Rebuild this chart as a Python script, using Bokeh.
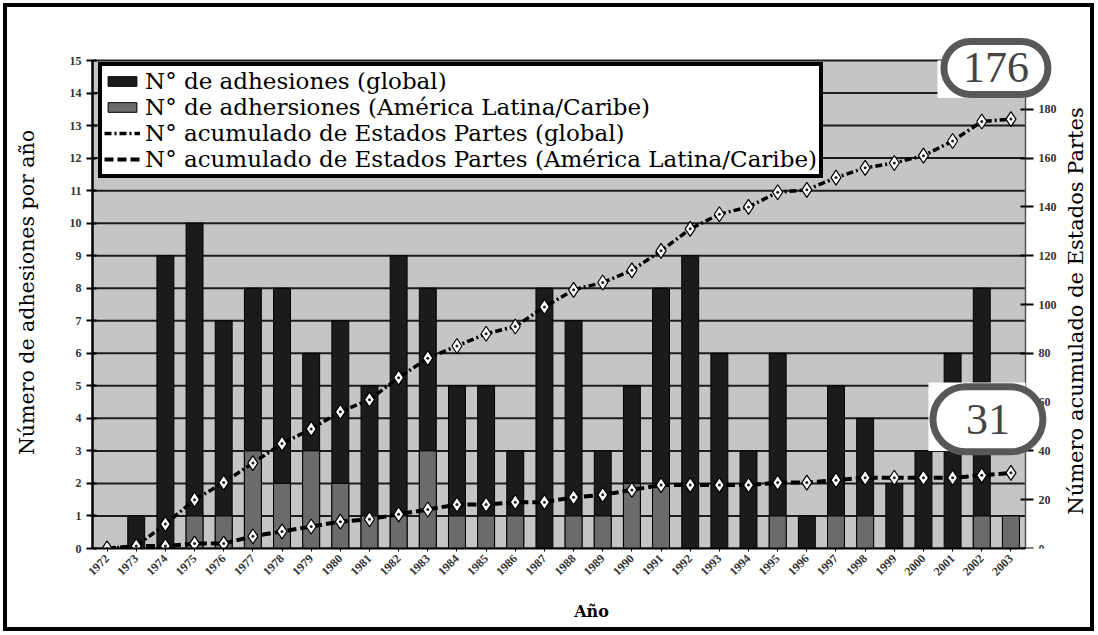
import math
from bokeh.plotting import figure
from bokeh.models import (ColumnDataSource, Range1d, LinearAxis, FixedTicker,
                          Legend, LegendItem, Label, BoxAnnotation)
from bokeh.embed import file_html
from bokeh.resources import INLINE

# ---------------- data ----------------
years = ["1972", "1973", "1974", "1975", "1976", "1977", "1978", "1979", "1980",
         "1981", "1982", "1983", "1984", "1985", "1986", "1987", "1988", "1989",
         "1990", "1991", "1992", "1993", "1994", "1995", "1996", "1997", "1998",
         "1999", "2000", "2001", "2002", "2003"]
adh_global = [0, 1, 9, 10, 7, 8, 8, 6, 7, 5, 9, 8, 5, 5, 3, 8, 7, 3, 5, 8, 9, 6,
              3, 6, 1, 5, 4, 2, 3, 6, 8, 1]
adh_latam = [0, 0, 0, 1, 1, 3, 2, 3, 2, 1, 1, 3, 1, 1, 1, 0, 1, 1, 2, 2, 0, 0,
             0, 1, 0, 1, 1, 0, 0, 0, 1, 1]
cum_global = [0, 1, 10, 20, 27, 35, 43, 49, 56, 61, 70, 78, 83, 88, 91, 99, 106,
              109, 114, 122, 131, 137, 140, 146, 147, 152, 156, 158, 161, 167,
              175, 176]
cum_latam = [0, 1, 1, 2, 2, 5, 7, 9, 11, 12, 14, 16, 18, 18, 19, 19, 21, 22, 24,
             26, 26, 26, 26, 27, 27, 28, 29, 29, 29, 29, 30, 31]
left_ticks = [0, 1, 2, 3, 4, 5, 6, 7, 8, 9, 10, 11, 12, 13, 14, 15]
right_ticks = [0, 20, 40, 60, 80, 100, 120, 140, 160, 180]
legend_labels = ["N° de adhesiones (global)",
                 "N° de adhersiones (América Latina/Caribe)",
                 "N° acumulado de Estados Partes (global)",
                 "N° acumulado de Estados Partes (América Latina/Caribe)"]
left_title = "Número de adhesiones por año"
right_title = "Número acumulado de Estados Partes"
x_title = "Año"
total_global_label = "176"
total_latam_label = "31"

# category slots: year i is centred at i + 0.5 on the x scale
n = len(years)
xc = [i + 0.5 for i in range(n)]
src = ColumnDataSource(dict(x=xc, year=years, g=adh_global, l=adh_latam,
                            cg=cum_global, cl=cum_latam))

SERIF = "DejaVu Serif"
TSERIF = "Liberation Serif"

LEFT_MAX = 15
RIGHT_MAX = 200
# the frame is larger than the grey plotting area so that the ovals and the
# right-hand title (drawn as labels) are not clipped
X_END = n * 998 / 933
Y_END = LEFT_MAX * 512 / 488

p = figure(x_range=Range1d(0, X_END), y_range=Range1d(0, Y_END),
           width=1091, height=628, output_backend="svg", toolbar_location=None,
           min_border_left=85, min_border_right=8, min_border_top=29,
           min_border_bottom=87)
p.styles = {"border": "4px solid black", "margin": "3px"}
p.extra_y_ranges = {"cum": Range1d(0, RIGHT_MAX * Y_END / LEFT_MAX)}

p.background_fill_color = "white"
p.border_fill_color = "white"
p.outline_line_color = None
p.grid.grid_line_color = None

# grey plotting area
p.add_layout(BoxAnnotation(left=0, right=n, bottom=0, top=LEFT_MAX,
                           fill_color="#c5c5c5", fill_alpha=1,
                           line_color="#8a8a8a", line_width=1, level="underlay"))

# horizontal grid lines (one per left tick)
p.segment(x0=[0] * len(left_ticks), x1=[n] * len(left_ticks), y0=left_ticks,
          y1=left_ticks, line_color="#1c1c1c", line_width=2)

# bars
b1 = p.vbar(x="x", top="g", width=0.58, source=src, fill_color="#1b1b1b",
            line_color="black", line_width=1)
b2 = p.vbar(x="x", top="l", width=0.58, source=src, fill_color="#6b6b6b",
            line_color="black", line_width=1)

# cumulative lines
l1 = p.line(x="x", y="cg", source=src, y_range_name="cum", line_color="black",
            line_width=3.5, line_dash="7 3 2 3")
l2 = p.line(x="x", y="cl", source=src, y_range_name="cum", line_color="black",
            line_width=4, line_dash="9 4")
for col in ("cg", "cl"):
    p.scatter(x="x", y=col, source=src, y_range_name="cum", marker="diamond",
              size=15, fill_color="white", line_color="black", line_width=1.2)
    p.scatter(x="x", y=col, source=src, y_range_name="cum", marker="circle",
              size=3, fill_color="#222", line_color=None)

# left axis
p.yaxis.ticker = FixedTicker(ticks=left_ticks)
p.yaxis.bounds = (0, LEFT_MAX)
p.yaxis.axis_label = left_title
p.yaxis.axis_label_text_font = SERIF
p.yaxis.axis_label_text_font_size = "20.5px"
p.yaxis.axis_label_text_font_style = "normal"
p.yaxis.axis_label_text_color = "black"
p.yaxis.axis_label_standoff = 28
p.yaxis.major_label_text_font = TSERIF
p.yaxis.major_label_text_font_size = "12px"
p.yaxis.major_label_text_font_style = "bold"
p.yaxis.major_label_text_color = "#333333"
p.yaxis.axis_line_color = "black"
p.yaxis.axis_line_width = 2.5
p.yaxis.major_tick_in = 4
p.yaxis.major_tick_out = 6
p.yaxis.major_tick_line_width = 2
p.yaxis.minor_tick_line_color = None

# right axis, pinned to the right edge of the grey area
ry = LinearAxis(y_range_name="cum", ticker=FixedTicker(ticks=right_ticks),
                fixed_location=n, bounds=(0, RIGHT_MAX))
ry.major_label_text_font = TSERIF
ry.major_label_text_font_size = "12px"
ry.major_label_text_font_style = "bold"
ry.major_label_text_color = "#333333"
ry.axis_line_color = "#555555"
ry.axis_line_width = 1.5
ry.major_tick_in = 5
ry.major_tick_out = 8
ry.major_tick_line_width = 2
ry.minor_tick_line_color = None
p.add_layout(ry, "right")

# bottom axis
p.xaxis.ticker = FixedTicker(ticks=xc)
p.xaxis.major_label_overrides = {c: y for c, y in zip(xc, years)}
p.xaxis.bounds = (0, n)
p.xaxis.axis_label = x_title
p.xaxis.axis_label_text_font = SERIF
p.xaxis.axis_label_text_font_size = "16px"
p.xaxis.axis_label_text_font_style = "bold"
p.xaxis.axis_label_text_color = "black"
p.xaxis.axis_label_standoff = 20
p.xaxis.major_label_orientation = math.pi / 4
p.xaxis.major_label_text_font = TSERIF
p.xaxis.major_label_text_font_size = "12px"
p.xaxis.major_label_text_font_style = "bold"
p.xaxis.major_label_text_color = "#333333"
p.xaxis.axis_line_color = "black"
p.xaxis.axis_line_width = 2
p.xaxis.major_tick_out = 3
p.xaxis.major_tick_in = 0
p.xaxis.minor_tick_line_color = None

# legend
legend = Legend(items=[LegendItem(label=legend_labels[0], renderers=[b1]),
                       LegendItem(label=legend_labels[1], renderers=[b2]),
                       LegendItem(label=legend_labels[2], renderers=[l1]),
                       LegendItem(label=legend_labels[3], renderers=[l2])],
                location=(6, 370))
legend.border_line_color = "black"
legend.border_line_alpha = 1
legend.border_line_width = 4
legend.background_fill_color = "white"
legend.background_fill_alpha = 1
legend.label_text_font = SERIF
legend.label_text_font_size = "23px"
legend.label_text_color = "black"
legend.glyph_width = 36
legend.glyph_height = 12
legend.label_height = 20
legend.label_standoff = 5
legend.spacing = 0
legend.padding = 2
legend.margin = 0
p.add_layout(legend)

# right-hand title (reads bottom to top)
p.add_layout(Label(x=n, y=7.3, x_offset=50, text=right_title, angle=math.pi / 2,
                   text_font=SERIF, text_font_size="21px", text_color="black",
                   text_align="center", text_baseline="middle"))

# white patches behind the ovals
p.add_layout(BoxAnnotation(left=28.98, right=n, bottom=13.85, top=LEFT_MAX,
                           fill_color="white", fill_alpha=1, line_color=None))
p.add_layout(BoxAnnotation(left=28.67, right=n, bottom=3.0, top=5.1,
                           fill_color="white", fill_alpha=1, line_color=None))

# ovals with the totals
p.add_layout(Label(x=xc[-1], y=14.77, x_offset=-15, text=total_global_label,
                   text_font=TSERIF, text_font_size="44px", text_align="center",
                   text_baseline="middle", background_fill_color="white",
                   border_line_color="#585858", border_line_width=7,
                   padding=(19, 12), border_radius=34))
p.add_layout(Label(x=xc[-1], y=3.97, x_offset=-23, text=total_latam_label,
                   text_font=TSERIF, text_font_size="44px", text_align="center",
                   text_baseline="middle", background_fill_color="white",
                   border_line_color="#585858", border_line_width=7,
                   padding=(33, 18), border_radius=40))

open("out.html", "w").write(file_html(p, INLINE))
